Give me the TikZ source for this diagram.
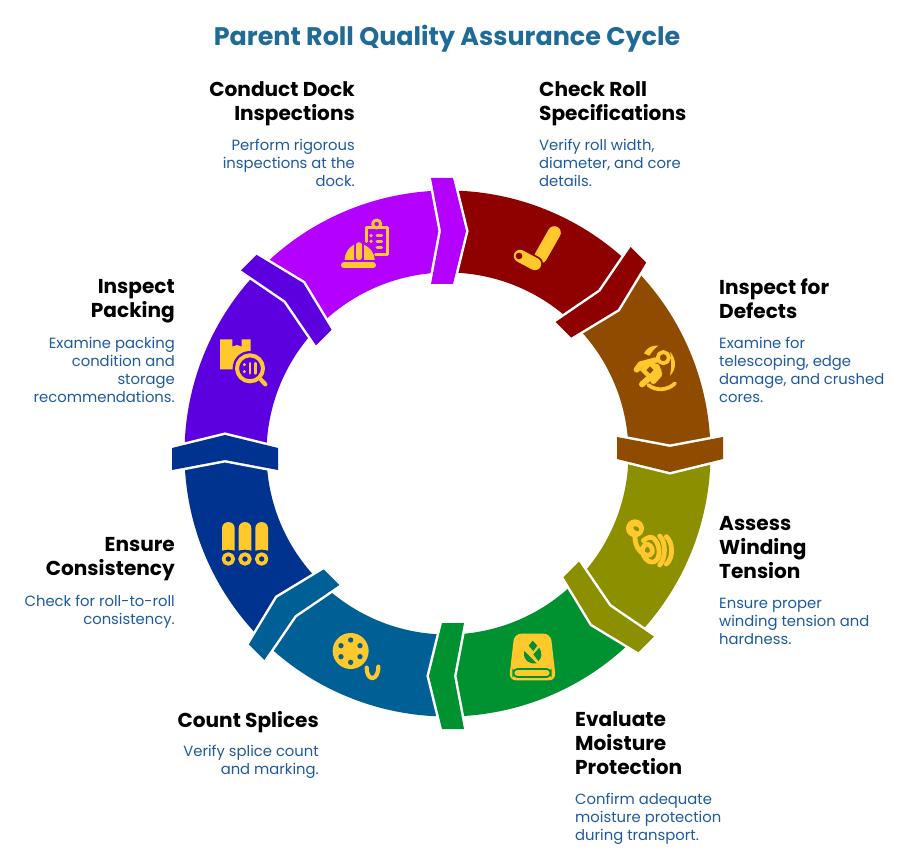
\documentclass[tikz,border=0pt]{standalone}
\usepackage{fontspec}
\setmainfont{Poppins}
\definecolor{cPurple}{HTML}{B400FF}
\definecolor{cRed}{HTML}{8F0000}
\definecolor{cBrown}{HTML}{8F4C00}
\definecolor{cOlive}{HTML}{8B8F00}
\definecolor{cGreen}{HTML}{009130}
\definecolor{cBlue}{HTML}{005F94}
\definecolor{cNavy}{HTML}{00338F}
\definecolor{cViolet}{HTML}{5C00E0}
\definecolor{cIcon}{HTML}{FFC92E}
\definecolor{cTitle}{HTML}{1F6A96}
\definecolor{cDesc}{HTML}{1F5A9E}
\tikzset{
  titletext/.style={inner sep=0pt,text=cTitle,font=\fontsize{25.4}{30}\selectfont\bfseries},
  headtext/.style={inner sep=0pt,text=black,font=\fontsize{20.1}{24}\selectfont\bfseries},
  desctext/.style={inner sep=0pt,text=cDesc,font=\fontsize{14.8}{18}\selectfont},
  lefttext/.style={align=left,anchor=north west},
  righttext/.style={align=right,anchor=north east},
  iconline/.style={draw=cIcon,line cap=round,line join=round},
  iconfill/.style={fill=cIcon},
}
\begin{document}
\begin{tikzpicture}[x=1pt,y=-1pt]
\useasboundingbox (0,0) rectangle (914,853);
\fill[white] (0,0) rectangle (914,853);
% ring sectors
\foreach \k/\c in {0/cRed,1/cBrown,2/cOlive,3/cGreen,4/cBlue,5/cNavy,6/cViolet,7/cPurple}{
  \begin{scope}[shift={(447.5,453.5)},rotate=-45*\k]
    \fill[\c] (0,-263) arc[start angle=-90,end angle=-45,radius=263]
      -- (127.99,-127.99) arc[start angle=-45,end angle=-90,radius=181] -- cycle;
  \end{scope}
}
% chevrons
\foreach \k/\c in {0/cPurple,1/cRed,2/cBrown,3/cOlive,4/cGreen,5/cBlue,6/cNavy,7/cViolet}{
  \begin{scope}[shift={(447.5,453.5)},rotate=-45*\k]
    \draw[white,line width=5pt,line join=miter]
      (-16.5,-169.5) -- (-6.5,-222.5) -- (-16.5,-275.5) -- (5.5,-275.5) -- (18.5,-222.5) -- (5.5,-169.5) -- cycle;
    \fill[\c]
      (-16.5,-169.5) -- (-6.5,-222.5) -- (-16.5,-275.5) -- (5.5,-275.5) -- (18.5,-222.5) -- (5.5,-169.5) -- cycle;
  \end{scope}
}
% icon: dock inspection
\begin{scope}[shift={(330,215)},scale=1/3]
  \draw[iconline,line width=6pt] (42,151) -- (129,151);
  \fill[iconfill] (44,135) .. controls (45,112) and (56,98) .. (72,89) -- (72,135) -- cycle;
  \fill[iconfill] (102,89) .. controls (120,98) and (133,112) .. (134,135) -- (102,135) -- cycle;
  \fill[iconfill,rounded corners=2.5pt] (78,135) -- (78,82) -- (96,82) -- (96,135) -- cycle;
  \draw[iconline,line width=3pt] (108,80) -- (108,38) -- (172,38) -- (172,118) -- (137,118);
  \draw[iconline,line width=3pt,fill=cPurple] (140,27) circle[radius=12];
  \fill[iconfill] (123,62) circle[radius=5.5] (123,79) circle[radius=5.5];
  \draw[iconline,line width=3pt] (141,62) -- (155,62) (141,79) -- (155,79) (141,97) -- (155,97);
\end{scope}
% icon: roll specifications
\begin{scope}[shift={(400,160)},scale=1/3]
  \draw[draw=cIcon,line cap=round,line width=13pt] (463,218) -- (422,290);
  \draw[cRed,line cap=round,line width=16pt] (360,288) -- (405,312);
  \draw[iconline,line width=12.5pt] (360,288) -- (405,312);
  \fill[cRed] (357,288) circle[radius=10];
\end{scope}
% icon: defects
\begin{scope}[shift={(620,335)},scale=1/3]
  \fill[iconfill] (72,55) .. controls (80,38) and (98,30) .. (115,32) .. controls (105,40) and (95,50) .. (88,62) -- cycle;
  \fill[iconfill] (150,50) .. controls (172,75) and (168,105) .. (150,122) .. controls (155,95) and (155,75) .. cycle;
  \draw[iconline,line width=3.8pt] (85,150) .. controls (110,170) and (145,165) .. (165,145);
  \draw[iconline,line width=3.8pt] (130,68) circle[radius=17];
  \draw[iconline,line width=6pt] (62,88) -- (106,76);
  \draw[iconline,line width=6pt] (62,88) -- (50,104);
  \draw[iconline,line width=6pt] (110,95) -- (118,118) -- (100,138);
  \draw[iconline,line width=6pt] (92,125) -- (66,148);
  \fill[iconfill] (90,72) -- (125,105) -- (92,138) -- (60,105) -- cycle;
  \fill[cBrown] (90,94) -- (101,105) -- (90,116) -- (79,105) -- cycle;
\end{scope}
% icon: winding
\begin{scope}[shift={(615,510)},scale=1/3]
  \fill[iconfill] (60,55) circle[radius=27];
  \fill[cOlive,rotate around={-30:(64,56)}] (64,56) ellipse[x radius=10,y radius=6];
  \draw[iconline,line width=4.8pt] (60,78) .. controls (58,115) and (85,140) .. (105,135) .. controls (118,128) and (112,105) .. (98,103) .. controls (85,103) and (78,118) .. (85,135) .. controls (92,152) and (110,165) .. (125,150) .. controls (140,130) and (130,90) .. (110,82) .. controls (100,80) and (90,88) .. (85,92);
  \draw[iconline,line width=4.8pt] (134,78) .. controls (153,95) and (153,145) .. (134,165);
  \draw[iconline,line width=4.8pt] (154,80) .. controls (174,95) and (176,145) .. (154,162);
\end{scope}
% icon: moisture
\begin{scope}[shift={(500,625)},scale=1/3]
  \fill[iconfill,rounded corners=7pt] (43,26) -- (152,26) -- (168,166) -- (27,166) -- cycle;
  \fill[cGreen] (98,47) -- (112,62) -- (100,78) -- (86,62) -- cycle;
  \fill[cGreen] (73,78) .. controls (68,105) and (85,118) .. (110,115) -- cycle;
  \fill[cGreen] (118,68) .. controls (128,85) and (125,100) .. (115,108) -- (100,88) -- cycle;
  \draw[cGreen,line width=1.8pt,rounded corners=4pt] (152,132) -- (40,132) -- (40,156) -- (152,156) -- cycle;
\end{scope}
% icon: splices
\begin{scope}[shift={(325,625)},scale=1/3]
  \fill[iconfill] (77,78) circle[radius=54];
  \foreach \px/\py in {77/45,105/62,105/95,77/112,48/95,48/62}{
    \fill[cBlue] (\px,\py) circle[radius=8];
  }
  \draw[iconline,line width=4.2pt] (125,128) .. controls (125,170) and (160,170) .. (160,125);
\end{scope}
% icon: consistency
\begin{scope}[shift={(160,480)},scale=1/3]
  \foreach \bx in {205,255,305}{
    \fill[iconfill] (\bx-19,212) -- (\bx-19,145) .. controls (\bx-19,120) and (\bx+19,120) .. (\bx+19,145) -- (\bx+19,212) .. controls (\bx+8,208) and (\bx-8,208) .. (\bx-19,212) -- cycle;
    \draw[iconline,line width=3.7pt] (\bx,237) circle[radius=14.5];
  }
\end{scope}
% icon: packing
\begin{scope}[shift={(205,330)},scale=1/3]
  \fill[iconfill] (45,28) -- (82,28) -- (82,50) -- (96,45) -- (110,50) -- (110,28) -- (137,28) -- (137,118) -- (45,118) -- cycle;
  \fill[cViolet] (135,115) circle[radius=52];
  \draw[iconline,line width=4pt] (135,115) circle[radius=39];
  \draw[iconline,line width=4.2pt] (166,147) -- (181,163);
  \fill[iconfill] (118,104) circle[radius=5] (118,125) circle[radius=5];
  \draw[iconline,line width=2.8pt] (135,100) -- (135,130) (151,100) -- (151,130);
\end{scope}
% texts
\node[titletext,anchor=center] (title) at (447,39) {Parent Roll Quality Assurance Cycle};
\node[headtext,righttext] (h0) at (355,81) {Conduct Dock\\Inspections};
\node[desctext,righttext] (d0) at (355,139) {Perform rigorous\\inspections at the\\dock.};
\node[headtext,lefttext] (h1) at (539,81) {Check Roll\\Specifications};
\node[desctext,lefttext] (d1) at (539,139) {Verify roll width,\\diameter, and core\\details.};
\node[headtext,lefttext] (h2) at (719,279) {Inspect for\\Defects};
\node[desctext,lefttext] (d2) at (719,337) {Examine for\\telescoping, edge\\damage, and crushed\\cores.};
\node[headtext,lefttext] (h3) at (719,516) {Assess\\Winding\\Tension};
\node[desctext,lefttext] (d3) at (719,598) {Ensure proper\\winding tension and\\hardness.};
\node[headtext,lefttext] (h4) at (575,711) {Evaluate\\Moisture\\Protection};
\node[desctext,lefttext] (d4) at (575,793) {Confirm adequate\\moisture protection\\during transport.};
\node[headtext,righttext] (h5) at (319,711) {Count Splices};
\node[desctext,righttext] (d5) at (319,745) {Verify splice count\\and marking.};
\node[headtext,righttext] (h6) at (175,537) {Ensure\\Consistency};
\node[desctext,righttext] (d6) at (175,595) {Check for roll-to-roll\\consistency.};
\node[headtext,righttext] (h7) at (175,279) {Inspect\\Packing};
\node[desctext,righttext] (d7) at (175,337) {Examine packing\\condition and\\storage\\recommendations.};
\end{tikzpicture}
\end{document}
